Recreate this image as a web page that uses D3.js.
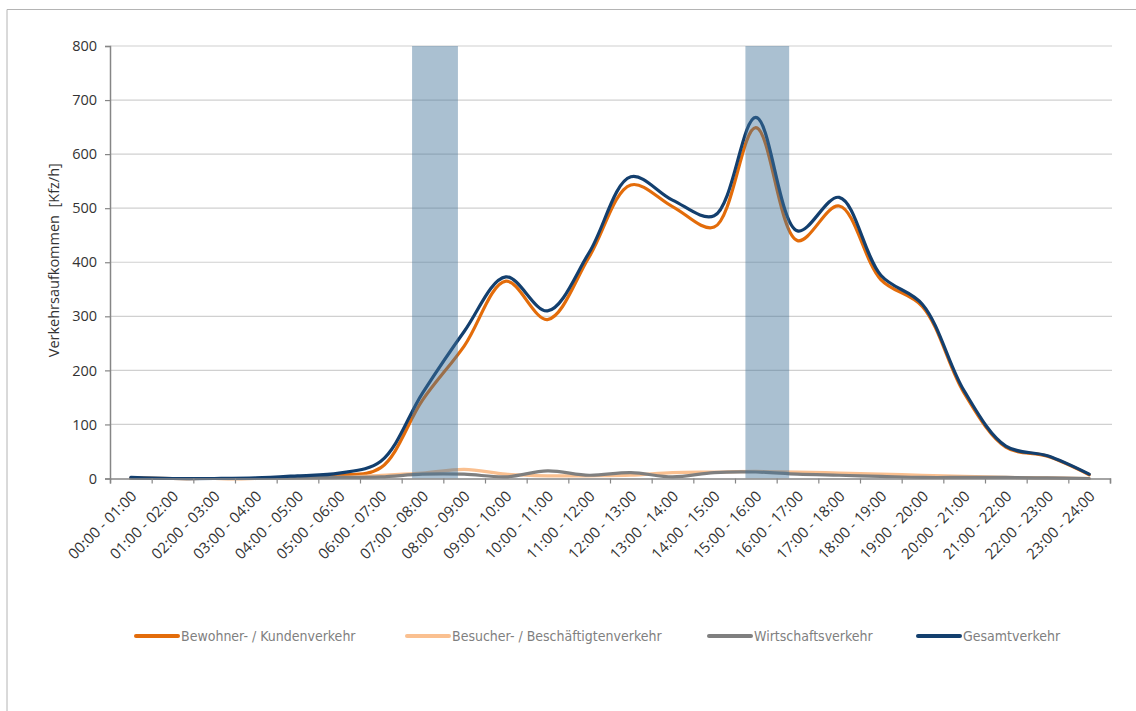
<!DOCTYPE html>
<html>
<head>
<meta charset="utf-8">
<script src="https://cdn.jsdelivr.net/npm/d3@7"></script>
<style>
  body { margin: 0; background: #fff; }
  svg { display: block; }
</style>
</head>
<body>
<svg id="chart" width="1136" height="711"></svg>
<script>
/* Tagesganglinie Verkehrsaufkommen */
var hours = ["00:00 - 01:00","01:00 - 02:00","02:00 - 03:00","03:00 - 04:00","04:00 - 05:00","05:00 - 06:00",
  "06:00 - 07:00","07:00 - 08:00","08:00 - 09:00","09:00 - 10:00","10:00 - 11:00","11:00 - 12:00",
  "12:00 - 13:00","13:00 - 14:00","14:00 - 15:00","15:00 - 16:00","16:00 - 17:00","17:00 - 18:00",
  "18:00 - 19:00","19:00 - 20:00","20:00 - 21:00","21:00 - 22:00","22:00 - 23:00","23:00 - 24:00"];

var bewohner     = [1, 0, 0, 0, 3, 6, 20, 145, 245, 365, 294, 410, 543, 503, 465, 649, 440, 504, 368, 318, 158, 58, 41, 7];
var besucher     = [0, 0, 0, 0, 1, 2, 6, 10, 17, 8, 5, 5, 6, 11, 12, 13, 12, 10, 8, 6, 4, 2, 1, 0];
var wirtschaft   = [0, 0, 0, 0, 1, 2, 3, 8, 8, 3, 14, 6, 11, 3, 11, 12, 8, 6, 4, 2, 2, 2, 1, 0];
var gesamt       = [2, 0, 0, 1, 5, 10, 32, 158, 272, 373, 310, 418, 558, 515, 486, 668, 458, 520, 376, 322, 162, 60, 42, 8];

// Spitzenstunden (Stundenwerte auf der Zeitachse)
var peakHours = [[7.25, 8.35], [15.25, 16.3]];

var yTicks = [0, 100, 200, 300, 400, 500, 600, 700, 800];

var series = [
  {name: "Bewohner- / Kundenverkehr", values: bewohner, color: "#e36c0a"},
  {name: "Besucher- / Beschäftigtenverkehr", values: besucher, color: "#fac090"},
  {name: "Wirtschaftsverkehr", values: wirtschaft, color: "#7f7f7f"},
  {name: "Gesamtverkehr", values: gesamt, color: "#133f6e"}
];

var svg = d3.select("#chart");
var plot = {left: 110, right: 1110, top: 46, bottom: 478.5};

var x = d3.scaleLinear().domain([0, 24]).range([plot.left, plot.right]);
var y = d3.scaleLinear().domain([0, 800]).range([plot.bottom, plot.top]);

// Rahmen
svg.append("path").attr("d", "M7,711V9.5H1136").attr("fill", "none").attr("stroke", "#b4b4b4").attr("stroke-width", 1);

// Gitternetz
svg.append("g").selectAll("line").data(yTicks.slice(1)).enter().append("line")
  .attr("x1", plot.left).attr("x2", plot.right + 2)
  .attr("y1", function(d) { return y(d); }).attr("y2", function(d) { return y(d); })
  .attr("stroke", "#d0d0d0").attr("stroke-width", 1.2);

// Linien
var line = d3.line()
  .x(function(d, i) { return x(i + 0.5); })
  .y(function(d) { return y(d); })
  .curve(d3.curveCatmullRom.alpha(0.5));

svg.append("g").selectAll("path").data(series).enter().append("path")
  .attr("d", function(s) { return line(s.values); })
  .attr("fill", "none")
  .attr("stroke", function(s) { return s.color; })
  .attr("stroke-width", 3.2)
  .attr("stroke-linejoin", "round").attr("stroke-linecap", "round");

// Spitzenstunden-Balken
svg.append("g").selectAll("rect").data(peakHours).enter().append("rect")
  .attr("x", function(d) { return x(d[0]); })
  .attr("width", function(d) { return x(d[1]) - x(d[0]); })
  .attr("y", y(800)).attr("height", y(0) - y(800))
  .attr("fill", "#42739a").attr("fill-opacity", 0.45);

// Achsen
var yAxis = svg.append("g").attr("transform", "translate(" + plot.left + ",0)")
  .call(d3.axisLeft(y).tickValues(yTicks).tickSize(5).tickPadding(8));
yAxis.selectAll("text").style("font", "14.5px 'Open Sans'").attr("fill", "#333");

var xAxis = svg.append("g").attr("transform", "translate(0," + plot.bottom + ")")
  .call(d3.axisBottom(x).tickValues(d3.range(0, 25)).tickSize(5).tickFormat(""));

[yAxis, xAxis].forEach(function(a) {
  a.select(".domain").attr("stroke", "#868686").attr("stroke-width", 1.5);
  a.selectAll(".tick line").attr("stroke", "#868686").attr("stroke-width", 1.2);
});

svg.append("g").selectAll("text").data(hours).enter().append("text")
  .attr("transform", function(d, i) { return "translate(" + (x(i + 0.5) + 3) + "," + (plot.bottom + 15) + ") rotate(-45)"; })
  .attr("text-anchor", "end").attr("dy", "0.35em")
  .style("font", "15px 'Open Sans'").attr("fill", "#333")
  .text(function(d) { return d; });

svg.append("text")
  .attr("transform", "translate(59," + ((plot.top + plot.bottom) / 2 - 2) + ") rotate(-90)")
  .attr("text-anchor", "middle")
  .style("font", "14.5px 'Open Sans'").style("white-space", "pre").attr("fill", "#333")
  .text("Verkehrsaufkommen  [Kfz/h]");

// Legende
var legendX = [136, 407, 709, 918];
var legend = svg.append("g").selectAll("g").data(series).enter().append("g")
  .attr("transform", function(d, i) { return "translate(" + legendX[i] + ",636)"; });
legend.append("line").attr("x1", 0).attr("x2", 42)
  .attr("stroke", function(d) { return d.color; }).attr("stroke-width", 4).attr("stroke-linecap", "round");
legend.append("text").attr("x", 45).attr("dy", "0.35em")
  .style("font", "14px 'DejaVu Sans Condensed', 'Roboto', sans-serif").attr("fill", "#7f7f7f")
  .text(function(d) { return d.name; });
</script>
</body>
</html>
